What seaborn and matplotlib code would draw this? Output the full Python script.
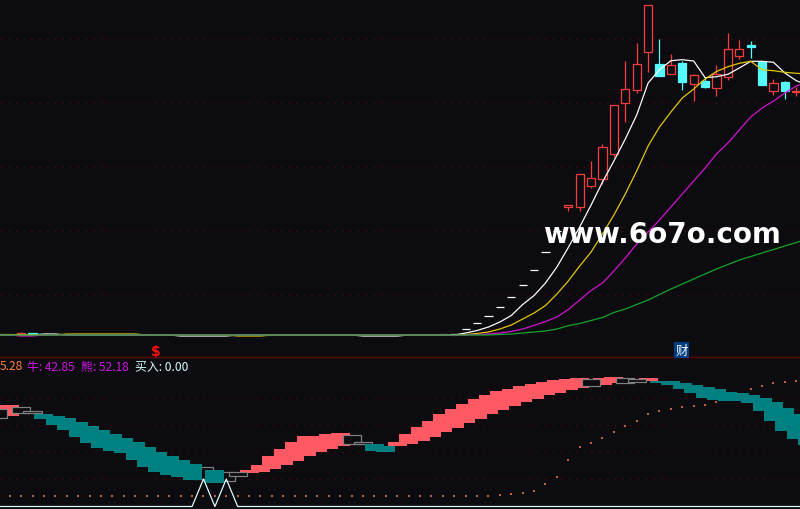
import numpy as np
import pandas as pd
import matplotlib
matplotlib.use('Agg')
import matplotlib.pyplot as plt
import seaborn as sns

BG = '#0c0c10'
RED = '#ff3c3c'
CYAN = '#54fcfc'
BAND_RED = '#ff5a64'
BAND_TEAL = '#008080'
BAND_GRAY = '#808080'
GRID = '#5a0a0a'
THIN = 0.88

# moving averages, one value per trading slot
ma_white = [22, 22, 22, 22, 23, 23, 22, 22, 22, 22, 22, 22, 22, 22, 22, 22, 21, 21, 21, 21, 21,
            22, 22, 22, 22, 22, 22, 22, 22, 22, 22, 22, 21, 21, 21, 21, 22, 22, 22, 22, 22,
            24, 26.5, 30, 35, 41.5, 52.5, 61.5, 74, 90, 109.5, 130, 152, 175, 196, 218, 242, 274,
            287.3, 296.3, 297.3, 296, 279.3, 280.3, 282.7, 289, 295.7, 295.7, 294.7, 284, 276.3, 272]
ma_yellow = [22.5, 22.5, 22, 22, 22, 22, 23, 23, 23, 23, 23, 23, 23, 22, 22, 22, 22, 22, 22, 22, 22,
             21, 21, 21, 22, 22, 22, 22, 22, 22, 22, 22, 22, 22, 22, 22, 22, 22, 22, 22, 21.5,
             22.5, 23.5, 25, 28, 32, 38, 44, 51.5, 63, 76, 91, 105, 123, 142, 163, 186, 211,
             230, 245, 259, 268, 278, 285.5, 290.3, 293.7, 295.7, 287.3, 286.3, 284.7, 283.7, 283]
ma_magenta = [22, 22, 21, 21, 22, 22, 22, 22, 22, 22, 22, 22, 22, 22, 22, 22, 22, 22, 22, 22, 22,
              22, 22, 22, 22, 22, 22, 22, 22, 22, 22, 22, 22, 22, 22, 22, 22, 22, 22, 22, 21.5,
              22, 22.5, 23, 24, 25.5, 28, 31.5, 35.5, 40, 47.5, 57, 66.5, 74, 86, 99, 113, 125,
              137, 150, 163, 176, 189, 203, 214, 227, 240, 249, 256, 264, 271, 275]
ma_green = [22, 22, 22, 22, 22, 22, 22, 22, 22, 22, 22, 22, 22, 22, 22, 22, 22, 22, 22, 22, 22,
            22, 22, 22, 22, 22, 22, 22, 22, 22, 22, 22, 22, 22, 22, 22, 22, 22, 22, 22, 22,
            22, 22, 22, 22.5, 23, 24, 25, 26, 28, 31.3, 33.5, 36.5, 39.5, 44.5, 48, 52.5, 57,
            62.5, 68, 73, 78, 83, 88, 92.5, 97, 100.5, 104, 107.5, 111, 114.5, 118]

# candles
candle_idx = [50, 51, 52, 53, 54, 55, 56, 57, 58, 59, 60, 61, 62, 63, 64, 65, 66, 67, 68, 69, 70, 2, 3]
candle_top = [152, 183, 179, 210, 252, 268, 293, 352, 293, 292, 294, 282, 276, 283, 308, 308, 312, 295, 274, 275, 266.5, 24, 24]
candle_bot = [150.5, 150, 171, 178, 203, 254, 267, 305, 281, 283, 275, 273, 270, 269, 280.5, 301, 310, 272, 266, 266, 265.5, 22, 23]
candle_high = [152, 183, 196, 213, 252, 296, 314, 352, 318, 303, 296, 283, 280, 292, 324, 317, 316, 295, 278, 276, 270, 25, 24]
candle_low = [146, 146, 169, 173, 200, 235, 264, 285, 281, 283, 267, 256, 269, 261, 277, 298, 299, 272, 262, 258, 261, 22, 23]
candle_up = [1, 1, 1, 1, 1, 1, 1, 1, 0, 1, 0, 1, 0, 1, 1, 1, 0, 0, 1, 0, 1, 1, 0]

# flat one-price days
dash_idx = [39, 40, 41, 42, 43, 44, 45, 46, 47, 48, 49]
dash_val = [23, 23, 27.7, 33.7, 40.7, 49.7, 59.7, 71.7, 86.7, 104.7, 126]
dash_colors = [RED, 'white', 'white', 'white', 'white', 'white', 'white', 'white', 'white', 'white', 'white']

# lower indicator, floating band
band_high = [100, 104, 101.7, 97.7, 95, 93, 91, 87, 83, 79, 75, 71, 67, 62, 57, 53, 49, 45, 42, 39, 37, 36.7,
             39, 44, 53, 60, 67, 73, 73, 75, 76, 74, 67, 65, 63, 67, 75, 82, 88, 95, 100, 105, 110, 114,
             118, 120, 123, 125, 127, 129, 130, 131, 130, 131, 132, 131, 130, 131, 128, 128, 126, 124,
             122, 120, 117, 116, 114, 111, 107, 101, 95, 94]
band_low = [91.3, 93, 95.7, 95.7, 90, 84, 79, 72, 66, 61, 58, 56, 49, 42, 37, 34, 32, 29, 30, 26, 28, 33.3,
            36, 37, 40, 44, 48, 53, 57, 60, 63, 65, 65, 58, 57, 63, 65, 68, 72, 77, 81, 86, 90, 95,
            99, 103, 107, 110, 114, 116, 119, 121, 123, 124, 126, 126, 127, 128, 126, 124, 120, 116,
            111, 109, 108, 108, 106, 98, 88, 78, 70, 64]
band_kind = ['g', 'r', 'g', 'g', 't', 't', 't', 't', 't', 't', 't', 't', 't', 't', 't', 't', 't', 't', 'g', 't', 'g', 'g',
             'r', 'r', 'r', 'r', 'r', 'r', 'r', 'r', 'r', 'g', 'g', 't', 't', 'r', 'r', 'r', 'r', 'r', 'r', 'r', 'r', 'r',
             'r', 'r', 'r', 'r', 'r', 'r', 'r', 'r', 'g', 'r', 'r', 'g', 'g', 'r', 't', 't', 't', 't',
             't', 't', 't', 't', 't', 't', 't', 't', 't', 't']

# small orange dots, starting at slot 1
dots = [12.7, 12.7, 12.7, 12.7, 12.7, 12.7, 12.7, 12.7, 12.7, 12.7, 12.7, 12.7, 12.7, 12.7, 12.7,
        12.7, 12.7, 12.7, 12.7, 12.7, 12.7, 12.7, 12.7, 12.7, 12.7, 12.7, 12.7, 12.7, 12.7, 12.7,
        12.7, 12.7, 12.7, 12.7, 12.7, 12.7, 12.7, 12.7, 12.7, 12.7, 12.7, 12.7, 12.7,
        13.7, 14.7, 15.7, 17.7, 24.7, 31.7, 48.7, 61.7, 65.7, 70.7, 76.7, 82.7, 87.7, 94.7, 97.7,
        99.7, 101.7, 102.7, 103.7, 106.7, 110, 115, 119.7, 122.7, 125.7, 126.7, 127.7]

# buy signal line along the bottom
buy = [2.5, 2.5, 2.5, 2.5, 2.5, 2.5, 2.5, 2.5, 2.5, 2.5, 2.5, 2.5, 2.5, 2.5, 2.5, 2.5, 2.5, 2.5, 30, 2.5, 30, 2.5,
       2.5, 2.5, 2.5, 2.5, 2.5, 2.5, 2.5, 2.5, 2.5, 2.5, 2.5, 2.5, 2.5, 2.5, 2.5, 2.5, 2.5, 2.5, 2.5, 2.5, 2.5, 2.5,
       2.5, 2.5, 2.5, 2.5, 2.5, 2.5, 2.5, 2.5, 2.5, 2.5, 2.5, 2.5, 2.5, 2.5, 2.5, 2.5, 2.5, 2.5, 2.5, 2.5, 2.5, 2.5,
       2.5, 2.5, 2.5, 2.5, 2.5, 2.5]

slots = np.arange(len(ma_white))
ma_df = pd.DataFrame({'slot': slots, 'MA5': ma_white, 'MA10': ma_yellow, 'MA20': ma_magenta, 'MA60': ma_green})
ma_long = ma_df.melt(id_vars='slot', var_name='ma', value_name='price')

sns.set_style('dark', {'axes.facecolor': BG, 'figure.facecolor': BG})
plt.rcParams['font.family'] = ['Noto Sans CJK SC', 'DejaVu Sans']

fig = plt.figure(figsize=(8, 5.1), dpi=100, facecolor=BG)
ax = fig.add_axes([0, 152 / 510, 1, 358 / 510])
ax_low = fig.add_axes([0, 0, 1, 152 / 510])

for a in (ax, ax_low):
    a.set_xlim(0.149, 70.325)
    a.set_facecolor(BG)
    a.set_xticks([])
    a.tick_params(length=0, labelleft=False, labelbottom=False)
    a.grid(False)
    a.grid(axis='y', color=GRID, linestyle=(0, (1, 6)), linewidth=0.8)
    a.set_axisbelow(True)
    for s in a.spines.values():
        s.set_visible(False)

ax.set_ylim(0, 358)
ax.set_yticks([62, 126, 190, 254, 318])
ax_low.set_ylim(0, 152)
ax_low.set_yticks([30, 57, 84, 111])
ax_low.spines['top'].set_visible(True)
ax_low.spines['top'].set_color('#5c0000')
ax_low.spines['top'].set_linewidth(1)

# upper panel: averages drawn over the candles
sns.lineplot(data=ma_long, x='slot', y='price', hue='ma', estimator=None, legend=False, ax=ax,
             palette={'MA5': 'white', 'MA10': '#e8c800', 'MA20': '#d414d4', 'MA60': '#14a82c'},
             hue_order=['MA5', 'MA10', 'MA20', 'MA60'], linewidth=THIN, zorder=4)
ax.set_xlabel('')
ax.set_ylabel('')

for i, top, bot, hi, lo, up in zip(candle_idx, candle_top, candle_bot, candle_high, candle_low, candle_up):
    c = RED if up else CYAN
    ax.vlines(i, lo, hi, color=c, linewidth=THIN, zorder=3)
    ax.bar(i, top - bot, bottom=bot, width=0.72, facecolor=BG if up else CYAN,
           edgecolor=c, linewidth=THIN, zorder=3)
for i, v, c in zip(dash_idx, dash_val, dash_colors):
    ax.hlines(v, i - 0.36, i + 0.36, color=c, linewidth=THIN, zorder=3)

# lower panel
kinds = np.array(band_kind)
high = np.array(band_high)
low = np.array(band_low)
idx = np.arange(len(high))
m = kinds == 'r'
ax_low.bar(idx[m], high[m] - low[m], bottom=low[m], width=1.67, color=BAND_RED, linewidth=0, antialiased=False, zorder=2)
m = kinds == 'g'
ax_low.bar(idx[m], high[m] - low[m], bottom=low[m], width=1.58, facecolor=BG, edgecolor=BAND_GRAY, linewidth=THIN, zorder=3)
m = kinds == 't'
ax_low.bar(idx[m], high[m] - low[m], bottom=low[m], width=1.67, color=BAND_TEAL, linewidth=0, antialiased=False, zorder=4)

sns.scatterplot(x=np.arange(1, len(dots) + 1), y=dots, color='#ff8040', marker='s', s=0.6, alpha=0.75,
                linewidth=0, ax=ax_low, legend=False, zorder=1)
sns.lineplot(x=np.arange(len(buy)), y=buy, color='#e0ffff', linewidth=THIN, ax=ax_low, estimator=None, zorder=5)
ax_low.set_xlabel('')
ax_low.set_ylabel('')

# status line of the indicator
def status(x, s, c):
    fig.text(x / 800, 1 - 367 / 510, s, color=c, fontsize=8.6, ha='left', va='center')

status(0, '5.28', '#ff8040')
status(27, '牛: 42.85', '#d414e6')
status(81, '熊: 52.18', '#d414e6')
status(135, '买入: 0.00', '#d8ffff')

fig.text(156 / 800, 1 - 352 / 510, '$', color='#ff1010', fontsize=10, fontweight='bold', family='DejaVu Sans',
         ha='center', va='center')
fig.text(681.5 / 800, 1 - 351 / 510, '财', color='white', fontsize=9, ha='center', va='center',
         bbox=dict(facecolor='#003f7f', edgecolor='none', pad=1))

fig.text(662 / 800, 1 - 235 / 510, 'www.6o7o.com', color='white', fontsize=20, fontweight='bold',
         family='DejaVu Sans', ha='center', va='center', zorder=10)

fig.savefig('out.png', dpi=100, facecolor=BG)
